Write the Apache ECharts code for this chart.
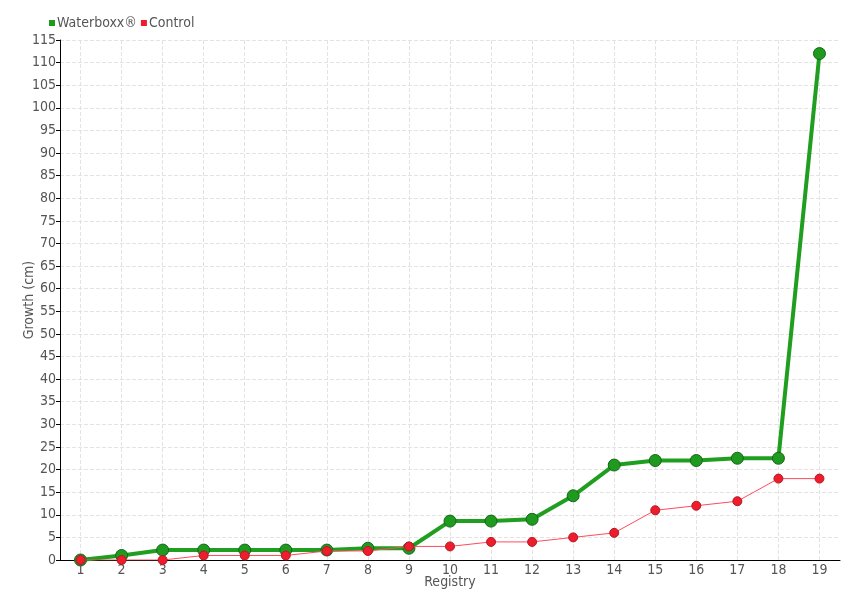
<!DOCTYPE html>
<html>
<head>
<meta charset="utf-8">
<script src="https://cdn.jsdelivr.net/npm/echarts@6/dist/echarts.min.js"></script>
<style>
  html, body { margin: 0; padding: 0; background: #fff; }
  #chart { width: 860px; height: 600px; }
</style>
</head>
<body>
<div id="chart"></div>
<script>
  // registry numbers along the x axis
  const registry = ['1', '2', '3', '4', '5', '6', '7', '8', '9', '10',
    '11', '12', '13', '14', '15', '16', '17', '18', '19']

  // growth in cm
  const waterboxx = [0, 1, 2.2, 2.2, 2.2, 2.2, 2.2, 2.6, 2.6, 8.6,
    8.6, 9, 14.2, 21, 22, 22, 22.5, 22.5, 112]
  const control = [0, 0, 0, 1, 1, 1, 2, 2, 3, 3,
    4, 4, 5, 6, 11, 12, 13, 18, 18]

  const font = 'DejaVu Sans Condensed'
  const textGrey = '#555'

  const chart = echarts.init(document.getElementById('chart'))

  chart.setOption({
    animation: false,
    textStyle: { fontFamily: font },
    legend: {
      left: 44,
      top: 11,
      icon: 'rect',
      itemWidth: 6,
      itemHeight: 6,
      itemGap: 4,
      itemStyle: { borderWidth: 0 },
      textStyle: { color: textGrey, fontSize: 14, padding: [0, 0, 0, -3] },
      data: ['Waterboxx®', 'Control']
    },
    grid: {
      left: 60,
      right: 20,
      top: 40,
      bottom: 40,
      outerBoundsMode: 'none'
    },
    xAxis: {
      type: 'category',
      data: registry,
      name: 'Registry',
      nameLocation: 'middle',
      nameGap: 15,
      nameMoveOverlap: false,
      nameTextStyle: { color: textGrey, fontSize: 14 },
      axisLine: { lineStyle: { color: '#000' } },
      axisTick: { alignWithLabel: true, length: 5, lineStyle: { color: '#000' } },
      axisLabel: { color: textGrey, fontSize: 14, margin: 3 },
      splitLine: {
        show: true,
        alignWithLabel: true,
        lineStyle: { type: 'dashed', color: '#e3e3e3' }
      }
    },
    yAxis: {
      type: 'value',
      min: 0,
      max: 115,
      interval: 5,
      name: 'Growth (cm)',
      nameLocation: 'middle',
      nameGap: 24,
      nameMoveOverlap: false,
      nameTextStyle: { color: textGrey, fontSize: 14 },
      axisLine: { show: true, lineStyle: { color: '#000' } },
      axisTick: { show: true, length: 4, lineStyle: { color: '#000' } },
      axisLabel: { color: textGrey, fontSize: 14, margin: 4 },
      splitLine: { lineStyle: { type: 'dashed', color: '#e3e3e3' } }
    },
    series: [
      {
        name: 'Waterboxx®',
        type: 'line',
        data: waterboxx,
        symbol: 'circle',
        symbolSize: 12,
        color: '#1e9a1e',
        lineStyle: { width: 4, color: '#1f9e1f' },
        itemStyle: { color: '#1e9a1e', borderColor: '#16651a', borderWidth: 1 },
        z: 3
      },
      {
        name: 'Control',
        type: 'line',
        data: control,
        symbol: 'circle',
        symbolSize: 9,
        color: '#ee1c2c',
        lineStyle: { width: 1, color: '#ff4c5c' },
        itemStyle: { color: '#ee1c2c', borderColor: '#b01a22', borderWidth: 1 },
        z: 4
      }
    ]
  })
</script>
</body>
</html>
